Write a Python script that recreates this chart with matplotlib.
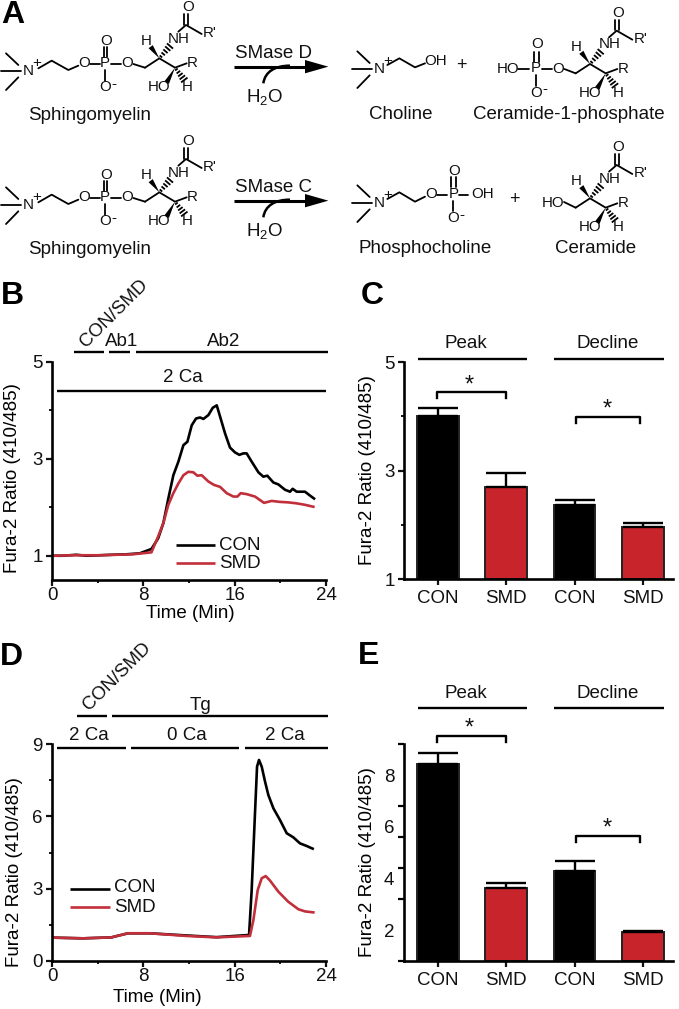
import numpy as np
import matplotlib
matplotlib.use("Agg")
import matplotlib.pyplot as plt
from matplotlib.path import Path
from matplotlib.patches import PathPatch, Polygon
from matplotlib.ticker import FixedLocator

plt.rcParams['font.family'] = ['Liberation Sans', 'DejaVu Sans']
plt.rcParams['mathtext.fontset'] = 'custom'
plt.rcParams['mathtext.rm'] = 'Liberation Sans'
plt.rcParams['mathtext.default'] = 'regular'

# ---- data ----
b_con_t = [0, 0.9, 2.13, 3.0, 4.18, 5.2, 6.52, 7.69, 8.71, 9.30, 9.75, 10.19, 10.63, 11.07, 11.51, 11.86, 12.24, 12.62, 12.97, 13.26, 13.70, 14.08, 14.43, 14.72, 15.16, 15.59, 16.03, 16.41, 16.76, 17.05, 17.49, 18.08, 18.51, 18.86, 19.39, 19.83, 20.41, 20.85, 21.08, 21.43, 21.87, 22.16, 22.60, 22.95]
b_con_v = [1, 1.0, 1.02, 1.0, 1.01, 1.02, 1.03, 1.05, 1.14, 1.36, 1.67, 2.18, 2.66, 2.94, 3.28, 3.35, 3.69, 3.83, 3.85, 3.82, 3.90, 4.05, 4.10, 3.87, 3.52, 3.23, 3.13, 3.08, 3.11, 3.11, 2.94, 2.72, 2.63, 2.65, 2.51, 2.47, 2.36, 2.32, 2.38, 2.32, 2.32, 2.32, 2.24, 2.18]
b_smd_t = [0, 2.0, 4.18, 7.1, 8.71, 9.3, 9.75, 10.19, 10.63, 11.07, 11.51, 11.94, 12.38, 12.73, 13.11, 13.70, 14.19, 14.72, 15.30, 15.89, 16.24, 16.53, 17.05, 17.78, 18.57, 19.24, 19.97, 20.70, 21.43, 22.16, 22.89]
b_smd_v = [1, 1.01, 1.01, 1.03, 1.07, 1.40, 1.67, 2.05, 2.29, 2.49, 2.66, 2.73, 2.72, 2.65, 2.66, 2.53, 2.46, 2.42, 2.29, 2.22, 2.22, 2.29, 2.27, 2.22, 2.09, 2.13, 2.11, 2.10, 2.08, 2.05, 2.01]

d_con_t = [0, 2.72, 5.2, 6.66, 8.56, 11.78, 14.41, 17.26, 17.49, 17.78, 17.96, 18.13, 18.37, 18.66, 18.95, 19.39, 19.97, 20.56, 21.14, 21.72, 22.31, 22.83]
d_con_v = [0.96, 0.93, 0.97, 1.14, 1.14, 1.05, 0.98, 1.07, 2.94, 6.13, 8.07, 8.35, 8.07, 7.45, 6.89, 6.34, 5.85, 5.30, 5.13, 4.88, 4.77, 4.66]
d_smd_t = [0, 2.72, 5.2, 6.66, 8.56, 11.78, 14.41, 17.34, 17.64, 18.02, 18.37, 18.72, 19.10, 19.83, 20.70, 21.58, 22.16, 22.89]
d_smd_v = [0.96, 0.93, 0.97, 1.14, 1.14, 1.03, 0.97, 1.03, 1.69, 2.94, 3.43, 3.52, 3.33, 2.87, 2.45, 2.14, 2.05, 2.01]

bar_labels = ['CON', 'SMD', 'CON', 'SMD']
c_vals = [4.00, 2.70, 2.36, 1.96]
c_tops = [4.16, 2.96, 2.46, 2.03]
e_vals = [8.43, 3.64, 4.28, 1.94]
e_tops = [8.86, 3.83, 4.68, 1.97]

RED = '#c8242b'
TRACE_RED = '#c22f3a'
W, H = 679, 1009
FS = 13.5
AT = 10.9

fig = plt.figure(figsize=(W / 100, H / 100), dpi=100, facecolor='white')


def rect(x0, x1, ytop, ybot):
    return [x0 / W, 1 - ybot / H, (x1 - x0) / W, (ybot - ytop) / H]


ov = fig.add_axes([0, 0, 1, 1], zorder=5)
ov.set_xlim(0, W)
ov.set_ylim(H, 0)
ov.axis('off')
ov.patch.set_alpha(0)


def T(x, y, s, size=FS, **kw):
    kw.setdefault('ha', 'center')
    kw.setdefault('va', 'center')
    return ov.text(x, y, s, fontsize=size, color='#111111', **kw)


def L(xs, ys, lw=1.7, color='black', **kw):
    ov.plot(xs, ys, color=color, lw=lw, solid_capstyle='butt', **kw)


def style(ax):
    for s in ('top', 'right'):
        ax.spines[s].set_visible(False)
    for s in ('left', 'bottom'):
        ax.spines[s].set_linewidth(1.9)
    ax.tick_params(which='major', length=4, width=1.6, labelsize=FS, pad=2.5, colors='#111111')
    ax.tick_params(which='minor', length=2.5, width=1.3)
    ax.patch.set_alpha(0)


def trace_panel(box, ylim, yticks, yminor, xlabelpos, ylabelpos, series):
    ax = fig.add_axes(rect(*box))
    style(ax)
    for t, v, c in series:
        ax.plot(t, v, color=c, lw=1.9)
    ax.set_xlim(0, 24)
    ax.set_ylim(*ylim)
    ax.set_xticks([0, 8, 16, 24])
    ax.xaxis.set_minor_locator(FixedLocator([4, 12, 20]))
    ax.tick_params(axis='x', pad=1)
    ax.set_yticks(yticks)
    ax.yaxis.set_minor_locator(FixedLocator(yminor))
    ax.set_xlabel('Time (Min)', fontsize=FS)
    ax.xaxis.set_label_coords(*xlabelpos, transform=ov.transData)
    ax.xaxis.label.set_va('center')
    ax.set_ylabel('Fura-2 Ratio (410/485)', fontsize=FS)
    ax.yaxis.set_label_coords(*ylabelpos, transform=ov.transData)
    ax.yaxis.label.set_va('center')
    return ax


def bar_panel(box, ylim, vals, tops, ylabelpos):
    ax = fig.add_axes(rect(*box))
    style(ax)
    xs = np.arange(4)
    colors = ['black', RED, 'black', RED]
    ax.bar(xs, np.array(vals) - ylim[0], bottom=ylim[0], width=0.61, color=colors,
           edgecolor='#222222', linewidth=1.4)
    ax.errorbar(xs, vals, yerr=[np.zeros(4), np.array(tops) - np.array(vals)], fmt='none',
                ecolor='black', elinewidth=1.7, capsize=14.5, capthick=1.7)
    ax.set_xlim(-0.498, 3.44)
    ax.set_ylim(*ylim)
    ax.set_xticks(xs)
    ax.set_xticklabels(bar_labels)
    ax.tick_params(axis='x', pad=4)
    ax.set_ylabel('Fura-2 Ratio (410/485)', fontsize=FS)
    ax.yaxis.set_label_coords(*ylabelpos, transform=ov.transData)
    ax.yaxis.label.set_va('center')
    return ax


# ---- panel B ----
trace_panel((52, 326, 361.7, 580), (0.5, 5), [1, 3, 5], [2, 4], (190, 613), (13, 478),
            [(b_con_t, b_con_v, 'black'), (b_smd_t, b_smd_v, TRACE_RED)])
# ---- panel D ----
trace_panel((52, 326, 744.3, 960.7), (0, 9), [0, 3, 6, 9], [1.5, 4.5, 7.5], (157, 997), (15, 872),
            [(d_con_t, d_con_v, 'black'), (d_smd_t, d_smd_v, TRACE_RED)])
# ---- panel C ----
ax_c = bar_panel((404, 673, 362.3, 579), (1, 5), c_vals, c_tops, (368, 470))
ax_c.set_yticks([1, 3, 5])
ax_c.yaxis.set_minor_locator(FixedLocator([2, 4]))
# ---- panel E ----
ax_e = bar_panel((404, 673, 744.3, 961), (0.8, 9.19), e_vals, e_tops, (368, 862))
ax_e.set_yticks([2, 4, 6, 8])
ax_e.tick_params(axis='y', which='major', length=0, pad=7)
ax_e.yaxis.set_minor_locator(FixedLocator([0.8, 2, 3.2, 4.4, 5.6, 6.8, 8, 9.19]))
ax_e.tick_params(axis='y', which='minor', length=4, width=1.6)

# ---- panel letters ----
for x, y, s in [(13, 15, 'A'), (12, 296, 'B'), (372, 296, 'C'), (11, 657, 'D'), (369, 656, 'E')]:
    ov.text(x, y, s, fontsize=23, fontweight='bold', color='black', ha='center', va='center')

# ---- B annotations ----
for x0, x1, y in [(74, 104, 352.3), (109, 130, 352.3), (136, 328, 352.3), (57, 326, 390.7)]:
    L([x0, x1], [y, y])
T(114, 314, 'CON/SMD', rotation=45)
T(122, 341, 'Ab1')
T(224, 341, 'Ab2')
T(183, 377, '2 Ca')
L([176, 215], [545, 545], color='black', lw=1.9)
L([176, 215], [563, 563], color=TRACE_RED, lw=1.9)
T(240, 545, 'CON')
T(240, 563, 'SMD')

# ---- D annotations ----
for x0, x1, y in [(77, 107, 716), (112, 328, 716), (57, 126, 748), (131, 239, 748), (245, 328, 748)]:
    L([x0, x1], [y, y])
T(117, 677, 'CON/SMD', rotation=45)
T(201, 705, 'Tg')
T(89, 735, '2 Ca')
T(187, 735, '0 Ca')
T(285, 735, '2 Ca')
L([70, 110], [889, 889], color='black', lw=1.9)
L([70, 110], [907, 907], color=TRACE_RED, lw=1.9)
T(135, 888, 'CON')
T(135, 907, 'SMD')


# ---- C / E annotations ----
def bracket(x0, x1, ytop, drop=6):
    ov.plot([x0, x0, x1, x1], [ytop + drop, ytop, ytop, ytop + drop], color='black', lw=1.7,
            solid_joinstyle='round')


for y_text, y_bar, br1, st1, br2, st2 in [(344, 359, 392, 382, 417, 406), (693, 708, 736, 725, 836, 825)]:
    T(466, y_text, 'Peak')
    T(608, y_text, 'Decline')
    L([418, 527], [y_bar, y_bar])
    L([554, 664], [y_bar, y_bar])
    bracket(437, 506, br1)
    bracket(576, 640, br2)
    T(469, st1 + 4, '*', size=17)
    T(607, st2 + 4, '*', size=17)


# ---- panel A: chemical structures, coordinates in 3x zoom units ----
def Z(pts, dx=0, dy=0):
    return [(x / 3 + dx / 3, y / 3 + dy / 3) for x, y in pts]


def bond(pts, dx=0, dy=0, lw=1.3):
    p = Z(pts, dx, dy)
    ov.plot([a for a, _ in p], [b for _, b in p], color='black', lw=lw, solid_capstyle='round')


def atom(x, y, s, dx=0, dy=0, size=AT):
    T((x + dx) / 3, (y + dy) / 3, s, size=size)


def wedge(a, b, dx=0, dy=0):
    (ax_, ay), (bx, by) = Z([a, b], dx, dy)
    n = np.array([by - ay, ax_ - bx], float)
    n = n / np.hypot(*n) * 2.6
    ov.add_patch(Polygon([(ax_, ay), (bx + n[0], by + n[1]), (bx - n[0], by - n[1])], color='black', lw=0))


def hashed(a, b, dx=0, dy=0, k=5):
    (ax_, ay), (bx, by) = Z([a, b], dx, dy)
    n = np.array([by - ay, ax_ - bx], float)
    n = n / np.hypot(*n)
    for f in np.linspace(0.15, 1, k):
        cx, cy = ax_ + (bx - ax_) * f, ay + (by - ay) * f
        h = 2.8 * f + 0.3
        ov.plot([cx - n[0] * h, cx + n[0] * h], [cy - n[1] * h, cy + n[1] * h], color='black', lw=1.3)


def ceramide(dx, dy):
    bond([(435, 203), (478, 175), (525, 203), (560, 190)], dx, dy)
    atom(578, 190, 'R', dx, dy)
    wedge((478, 175), (452, 140), dx, dy)
    atom(438, 123, 'H', dx, dy)
    hashed((478, 175), (510, 138), dx, dy)
    atom(537, 116, 'NH', dx, dy)
    bond([(535, 95), (558, 75), (605, 102)], dx, dy)
    atom(630, 100, "R'", dx, dy)
    bond([(552, 74), (552, 42)], dx, dy)
    bond([(564, 74), (564, 42)], dx, dy)
    atom(563, 22, 'O', dx, dy)
    wedge((525, 203), (500, 248), dx, dy)
    atom(478, 262, 'HO', dx, dy)
    hashed((525, 203), (553, 240), dx, dy)
    atom(563, 262, 'H', dx, dy)


def methyls(dx, dy):
    bond([(18, 160), (55, 195)], dx, dy)
    bond([(3, 213), (62, 213)], dx, dy)
    bond([(18, 270), (55, 232)], dx, dy)
    atom(85, 212, 'N', dx, dy)
    atom(110, 190, '+', dx, dy)


def sphingomyelin(dy):
    methyls(0, dy)
    bond([(115, 205), (155, 182), (205, 210), (235, 197)], 0, dy)
    atom(252, 190, 'O', 0, dy)
    bond([(270, 192), (300, 192)], 0, dy)
    atom(315, 190, 'P', 0, dy)
    bond([(332, 192), (362, 192)], 0, dy)
    atom(382, 190, 'O', 0, dy)
    bond([(400, 192), (435, 203)], 0, dy)
    bond([(311, 170), (311, 142)], 0, dy)
    bond([(322, 170), (322, 142)], 0, dy)
    atom(317, 122, 'O', 0, dy)
    bond([(315, 210), (315, 242)], 0, dy)
    atom(315, 262, 'O', 0, dy)
    atom(342, 253, '-', 0, dy)
    ceramide(0, dy)
    atom(268, 345, 'Sphingomyelin', 0, dy, size=FS)


def reaction(name, dy):
    L([703 / 3, 915 / 3], [(200 + dy) / 3, (200 + dy) / 3], lw=2.2)
    ov.add_patch(Polygon(Z([(915, 180), (985, 200), (915, 220)], 0, dy), color='black', lw=0))
    atom(820, 162, name, 0, dy, size=FS)
    verts = Z([(790, 250), (795, 215), (825, 197), (870, 197)], 0, dy)
    ov.add_patch(PathPatch(Path(verts, [Path.MOVETO, Path.CURVE4, Path.CURVE4, Path.CURVE4]),
                           fc='none', ec='black', lw=1.8))
    atom(795, 290, 'H$_2$O', 0, dy, size=FS)


sphingomyelin(0)
sphingomyelin(402)
reaction('SMase D', 0)
reaction('SMase C', 402)

R = 1020
# choline
methyls(R + 34, -6)
bond([(R + 142, 195), (R + 178, 175), (R + 225, 202), (R + 255, 190)])
atom(R + 288, 182, 'OH')
atom(R + 365, 197, '+', size=13)
atom(R + 182, 343, 'Choline', size=FS)
# ceramide-1-phosphate
ceramide(R + 272, 17)
atom(R + 505, 207, 'HO')
bond([(R + 535, 207), (R + 568, 207)])
atom(R + 588, 205, 'P')
bond([(R + 606, 207), (R + 635, 207)])
atom(R + 655, 207, 'O')
bond([(R + 673, 207), (R + 707, 220)])
bond([(R + 582, 185), (R + 582, 155)])
bond([(R + 596, 185), (R + 596, 155)])
atom(R + 590, 133, 'O')
bond([(R + 588, 225), (R + 588, 258)])
atom(R + 588, 280, 'O')
atom(R + 614, 266, '-')
atom(R + 685, 343, 'Ceramide-1-phosphate', size=FS)
# phosphocholine
methyls(R + 34, 396)
bond([(R + 142, 597), (R + 178, 577), (R + 225, 605), (R + 255, 590)])
atom(R + 272, 582, 'O')
bond([(R + 290, 584), (R + 320, 584)])
atom(R + 340, 582, 'P')
bond([(R + 358, 584), (R + 385, 584)])
atom(R + 428, 582, 'OH')
bond([(R + 334, 562), (R + 334, 532)])
bond([(R + 347, 562), (R + 347, 532)])
atom(R + 343, 512, 'O')
bond([(R + 340, 602), (R + 340, 634)])
atom(R + 340, 655, 'O')
atom(R + 366, 645, '-')
atom(R + 523, 600, '+', size=13)
atom(R + 255, 745, 'Phosphocholine', size=FS)
# ceramide
ceramide(R + 272, 420)
atom(R + 640, 608, 'HO')
bond([(R + 672, 606), (R + 707, 623)])
atom(R + 768, 745, 'Ceramide', size=FS)

fig.savefig('out.png', dpi=100, facecolor='white')
